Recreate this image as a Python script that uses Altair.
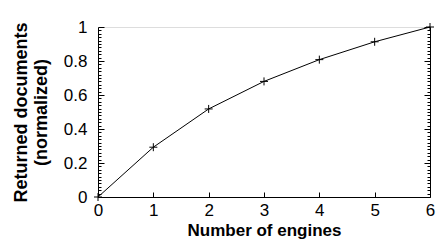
import altair as alt
import pandas as pd

engines = [0, 1, 2, 3, 4, 5, 6]
returned = [0.0, 0.293, 0.518, 0.68, 0.808, 0.913, 1.0]

x_ticks = [0, 1, 2, 3, 4, 5, 6]
y_ticks = [round(i * 0.02, 2) for i in range(51)]  # major every 0.2, minor every 0.02

df = pd.DataFrame({"engines": engines, "returned": returned})

FONT = "Liberation Sans"
W, H = 332, 170

xs = alt.Scale(domain=[0, 6], nice=False, zero=False)
ys = alt.Scale(domain=[0, 1], nice=False, zero=False)

# inward ticks are drawn as short dashes of the grid lines
x_axis = alt.Axis(
    orient="bottom", values=x_ticks, format="d", ticks=False,
    domain=True, domainColor="black", domainWidth=1,
    grid=True, gridColor="black", gridWidth=1, gridOpacity=1,
    gridDash={"condition": {"test": "datum.value == 6", "value": [400, 1]},
              "value": [0, H - 5, 5, 2000]},
    labelFont=FONT, labelFontSize=17, labelColor="black", labelPadding=5,
    labelFlush=False, labelOverlap=False,
    title="Number of engines", titleFont=FONT, titleFontSize=17,
    titleFontWeight="bold", titleColor="black", titlePadding=4,
)

y_axis = alt.Axis(
    orient="left", values=y_ticks, format="~g", ticks=False,
    domain=True, domainColor="black", domainWidth=1,
    grid=True, gridColor="black", gridWidth=1, gridOpacity=1,
    gridDash={"condition": {"test": "round(datum.value * 50) % 10 == 0", "value": [6, W - 12, 6, 2000]},
              "value": [3, W - 6, 3, 2000]},
    labelExpr="round(datum.value * 50) % 10 == 0 ? datum.label : ''",
    labelFont=FONT, labelFontSize=17, labelColor="black", labelPadding=11,
    labelFlush=False, labelOverlap=False,
    title=["Returned documents", "(normalized)"], titleFont=FONT, titleFontSize=18,
    titleFontWeight="bold", titleColor="black", titlePadding=13, titleLineHeight=20,
)

chart = alt.Chart(df).mark_line(
    color="black", strokeWidth=1,
    point=alt.OverlayMarkDef(shape="M-1,0L1,0M0,-1L0,1", size=64, filled=False,
                             color="black", strokeWidth=1, opacity=1),
).encode(
    x=alt.X("engines:Q", scale=xs, axis=x_axis),
    y=alt.Y("returned:Q", scale=ys, axis=y_axis),
).properties(
    width=W, height=H,
    autosize=alt.AutoSizeParams(type="none"),
    padding={"left": 90, "top": 19, "right": 6, "bottom": 46},
).configure_view(strokeWidth=0).configure(background="white")

chart.save("out.html", embed_options={"renderer": "svg", "actions": False})
